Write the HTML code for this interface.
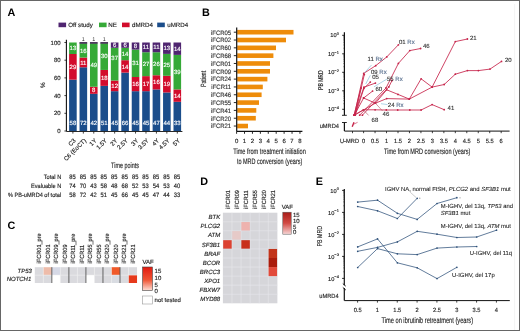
<!DOCTYPE html>
<html><head><meta charset="utf-8"><style>
html,body{margin:0;padding:0;background:#fff;}
body{width:520px;height:331px;overflow:hidden;}
svg{display:block;font-family:"Liberation Sans", sans-serif;will-change:transform;filter:blur(0.3px);}
</style></head><body>
<svg width="520" height="331" viewBox="0 0 520 331" font-family='"Liberation Sans", sans-serif' text-rendering="geometricPrecision">
<rect x="0" y="0" width="520" height="331" fill="#fff"/>
<line x1="514.6" y1="4" x2="514.6" y2="330" stroke="#f0f0f0" stroke-width="0.8"/>
<text x="7.60" y="15.60" font-size="10.8" text-anchor="start" fill="#000" font-weight="bold" >A</text>
<text x="202.00" y="15.60" font-size="10.8" text-anchor="start" fill="#000" font-weight="bold" >B</text>
<text x="7.60" y="229.20" font-size="10.8" text-anchor="start" fill="#000" font-weight="bold" >C</text>
<text x="200.20" y="185.20" font-size="10.8" text-anchor="start" fill="#000" font-weight="bold" >D</text>
<text x="315.80" y="185.20" font-size="10.8" text-anchor="start" fill="#000" font-weight="bold" >E</text>
<rect x="58.50" y="22.60" width="7.60" height="4.60" fill="#4f2570" />
<text x="68.20" y="27.30" font-size="6.2" text-anchor="start" fill="#222" stroke="#222" stroke-width="0.14" >Off study</text>
<rect x="99.00" y="22.60" width="7.60" height="4.60" fill="#35a937" />
<text x="108.20" y="27.30" font-size="6.2" text-anchor="start" fill="#222" stroke="#222" stroke-width="0.14" >NE</text>
<rect x="122.00" y="22.60" width="7.60" height="4.60" fill="#d20c2c" />
<text x="132.00" y="27.30" font-size="6.2" text-anchor="start" fill="#222" stroke="#222" stroke-width="0.14" >dMRD4</text>
<rect x="157.20" y="22.60" width="7.60" height="4.60" fill="#1b4d8b" />
<text x="167.20" y="27.30" font-size="6.2" text-anchor="start" fill="#222" stroke="#222" stroke-width="0.14" >uMRD4</text>
<line x1="66.40" y1="39.80" x2="66.40" y2="131.50" stroke="#111" stroke-width="1.1"/>
<line x1="64.40" y1="131.00" x2="66.60" y2="131.00" stroke="#111" stroke-width="0.8"/>
<text x="60.60" y="133.10" font-size="6" text-anchor="end" fill="#222" stroke="#222" stroke-width="0.14" >0</text>
<line x1="64.40" y1="113.30" x2="66.60" y2="113.30" stroke="#111" stroke-width="0.8"/>
<text x="60.60" y="115.40" font-size="6" text-anchor="end" fill="#222" stroke="#222" stroke-width="0.14" >20</text>
<line x1="64.40" y1="95.60" x2="66.60" y2="95.60" stroke="#111" stroke-width="0.8"/>
<text x="60.60" y="97.70" font-size="6" text-anchor="end" fill="#222" stroke="#222" stroke-width="0.14" >40</text>
<line x1="64.40" y1="77.90" x2="66.60" y2="77.90" stroke="#111" stroke-width="0.8"/>
<text x="60.60" y="80.00" font-size="6" text-anchor="end" fill="#222" stroke="#222" stroke-width="0.14" >60</text>
<line x1="64.40" y1="60.20" x2="66.60" y2="60.20" stroke="#111" stroke-width="0.8"/>
<text x="60.60" y="62.30" font-size="6" text-anchor="end" fill="#222" stroke="#222" stroke-width="0.14" >80</text>
<line x1="64.40" y1="42.50" x2="66.60" y2="42.50" stroke="#111" stroke-width="0.8"/>
<text x="60.60" y="44.60" font-size="6" text-anchor="end" fill="#222" stroke="#222" stroke-width="0.14" >100</text>
<text x="0.00" y="0.00" font-size="6.4" text-anchor="middle" fill="#222" stroke="#222" stroke-width="0.14" transform="translate(44.6,85.2) rotate(-90)">%</text>
<rect x="69.10" y="79.67" width="7.60" height="51.33" fill="#1b4d8b" />
<rect x="69.10" y="54.01" width="7.60" height="25.66" fill="#d20c2c" />
<rect x="69.10" y="42.50" width="7.60" height="11.51" fill="#35a937" />
<rect x="69.10" y="42.50" width="7.60" height="0.00" fill="#4f2570" />
<text x="72.90" y="124.60" font-size="6" text-anchor="middle" fill="#fff" stroke="#fff" stroke-width="0.14" >58</text>
<text x="72.90" y="68.94" font-size="6" text-anchor="middle" fill="#fff" stroke="#fff" stroke-width="0.14" >29</text>
<text x="72.90" y="50.35" font-size="6" text-anchor="middle" fill="#fff" stroke="#fff" stroke-width="0.14" >13</text>
<line x1="72.90" y1="131.50" x2="72.90" y2="133.60" stroke="#111" stroke-width="0.8"/>
<text x="0.00" y="0.00" font-size="6" text-anchor="end" fill="#222" stroke="#222" stroke-width="0.14" transform="translate(76.10,141.0) rotate(-45)">C3</text>
<rect x="79.54" y="67.28" width="7.60" height="63.72" fill="#1b4d8b" />
<rect x="79.54" y="57.55" width="7.60" height="9.73" fill="#d20c2c" />
<rect x="79.54" y="43.39" width="7.60" height="14.16" fill="#35a937" />
<rect x="79.54" y="42.50" width="7.60" height="0.89" fill="#4f2570" />
<text x="83.34" y="124.60" font-size="6" text-anchor="middle" fill="#fff" stroke="#fff" stroke-width="0.14" >72</text>
<text x="83.34" y="64.51" font-size="6" text-anchor="middle" fill="#fff" stroke="#fff" stroke-width="0.14" >11</text>
<text x="83.34" y="52.57" font-size="6" text-anchor="middle" fill="#fff" stroke="#fff" stroke-width="0.14" >16</text>
<rect x="79.54" y="42.30" width="7.60" height="1.20" fill="#2a1838" />
<text x="83.34" y="40.7" font-size="5.4" text-anchor="middle" fill="#333">1</text>
<line x1="83.34" y1="131.50" x2="83.34" y2="133.60" stroke="#111" stroke-width="0.8"/>
<text x="0.00" y="0.00" font-size="6" text-anchor="end" fill="#222" stroke="#222" stroke-width="0.14" transform="translate(86.54,141.0) rotate(-45)">C6 (EoCT)</text>
<rect x="89.98" y="93.83" width="7.60" height="37.17" fill="#1b4d8b" />
<rect x="89.98" y="86.75" width="7.60" height="7.08" fill="#d20c2c" />
<rect x="89.98" y="43.38" width="7.60" height="43.37" fill="#35a937" />
<rect x="89.98" y="42.50" width="7.60" height="0.89" fill="#4f2570" />
<text x="93.78" y="124.60" font-size="6" text-anchor="middle" fill="#fff" stroke="#fff" stroke-width="0.14" >42</text>
<text x="93.78" y="92.39" font-size="6" text-anchor="middle" fill="#fff" stroke="#fff" stroke-width="0.14" >8</text>
<text x="93.78" y="67.17" font-size="6" text-anchor="middle" fill="#fff" stroke="#fff" stroke-width="0.14" >49</text>
<rect x="89.98" y="42.30" width="7.60" height="1.20" fill="#2a1838" />
<text x="93.78" y="40.7" font-size="5.4" text-anchor="middle" fill="#333">1</text>
<line x1="93.78" y1="131.50" x2="93.78" y2="133.60" stroke="#111" stroke-width="0.8"/>
<text x="0.00" y="0.00" font-size="6" text-anchor="end" fill="#222" stroke="#222" stroke-width="0.14" transform="translate(96.98,141.0) rotate(-45)">1Y</text>
<rect x="100.42" y="85.87" width="7.60" height="45.13" fill="#1b4d8b" />
<rect x="100.42" y="69.94" width="7.60" height="15.93" fill="#d20c2c" />
<rect x="100.42" y="43.39" width="7.60" height="26.55" fill="#35a937" />
<rect x="100.42" y="42.50" width="7.60" height="0.89" fill="#4f2570" />
<text x="104.22" y="124.60" font-size="6" text-anchor="middle" fill="#fff" stroke="#fff" stroke-width="0.14" >51</text>
<text x="104.22" y="80.00" font-size="6" text-anchor="middle" fill="#fff" stroke="#fff" stroke-width="0.14" >18</text>
<text x="104.22" y="58.00" font-size="6" text-anchor="middle" fill="#fff" stroke="#fff" stroke-width="0.14" >30</text>
<rect x="100.42" y="42.30" width="7.60" height="1.20" fill="#2a1838" />
<text x="104.22" y="40.7" font-size="5.4" text-anchor="middle" fill="#333">1</text>
<line x1="104.22" y1="131.50" x2="104.22" y2="133.60" stroke="#111" stroke-width="0.8"/>
<text x="0.00" y="0.00" font-size="6" text-anchor="end" fill="#222" stroke="#222" stroke-width="0.14" transform="translate(107.42,141.0) rotate(-45)">1.5Y</text>
<rect x="110.86" y="91.17" width="7.60" height="39.83" fill="#1b4d8b" />
<rect x="110.86" y="80.55" width="7.60" height="10.62" fill="#d20c2c" />
<rect x="110.86" y="47.81" width="7.60" height="32.74" fill="#35a937" />
<rect x="110.86" y="42.50" width="7.60" height="5.31" fill="#4f2570" />
<text x="114.66" y="124.60" font-size="6" text-anchor="middle" fill="#fff" stroke="#fff" stroke-width="0.14" >45</text>
<text x="114.66" y="87.96" font-size="6" text-anchor="middle" fill="#fff" stroke="#fff" stroke-width="0.14" >12</text>
<text x="114.66" y="60.10" font-size="6" text-anchor="middle" fill="#fff" stroke="#fff" stroke-width="0.14" >37</text>
<text x="114.66" y="47.25" font-size="6" text-anchor="middle" fill="#fff" stroke="#fff" stroke-width="0.14" >6</text>
<line x1="114.66" y1="131.50" x2="114.66" y2="133.60" stroke="#111" stroke-width="0.8"/>
<text x="0.00" y="0.00" font-size="6" text-anchor="end" fill="#222" stroke="#222" stroke-width="0.14" transform="translate(117.86,141.0) rotate(-45)">2Y</text>
<rect x="121.30" y="72.59" width="7.60" height="58.41" fill="#1b4d8b" />
<rect x="121.30" y="60.20" width="7.60" height="12.39" fill="#d20c2c" />
<rect x="121.30" y="47.81" width="7.60" height="12.39" fill="#35a937" />
<rect x="121.30" y="42.50" width="7.60" height="5.31" fill="#4f2570" />
<text x="125.10" y="124.60" font-size="6" text-anchor="middle" fill="#fff" stroke="#fff" stroke-width="0.14" >66</text>
<text x="125.10" y="68.50" font-size="6" text-anchor="middle" fill="#fff" stroke="#fff" stroke-width="0.14" >14</text>
<text x="125.10" y="56.11" font-size="6" text-anchor="middle" fill="#fff" stroke="#fff" stroke-width="0.14" >14</text>
<text x="125.10" y="47.26" font-size="6" text-anchor="middle" fill="#fff" stroke="#fff" stroke-width="0.14" >6</text>
<line x1="125.10" y1="131.50" x2="125.10" y2="133.60" stroke="#111" stroke-width="0.8"/>
<text x="0.00" y="0.00" font-size="6" text-anchor="end" fill="#222" stroke="#222" stroke-width="0.14" transform="translate(128.30,141.0) rotate(-45)">2.5Y</text>
<rect x="131.74" y="91.17" width="7.60" height="39.83" fill="#1b4d8b" />
<rect x="131.74" y="77.02" width="7.60" height="14.16" fill="#d20c2c" />
<rect x="131.74" y="49.58" width="7.60" height="27.43" fill="#35a937" />
<rect x="131.74" y="42.50" width="7.60" height="7.08" fill="#4f2570" />
<text x="135.54" y="124.60" font-size="6" text-anchor="middle" fill="#fff" stroke="#fff" stroke-width="0.14" >45</text>
<text x="135.54" y="86.19" font-size="6" text-anchor="middle" fill="#fff" stroke="#fff" stroke-width="0.14" >16</text>
<text x="135.54" y="65.40" font-size="6" text-anchor="middle" fill="#fff" stroke="#fff" stroke-width="0.14" >31</text>
<text x="135.54" y="48.14" font-size="6" text-anchor="middle" fill="#fff" stroke="#fff" stroke-width="0.14" >8</text>
<line x1="135.54" y1="131.50" x2="135.54" y2="133.60" stroke="#111" stroke-width="0.8"/>
<text x="0.00" y="0.00" font-size="6" text-anchor="end" fill="#222" stroke="#222" stroke-width="0.14" transform="translate(138.74,141.0) rotate(-45)">3Y</text>
<rect x="142.18" y="91.17" width="7.60" height="39.83" fill="#1b4d8b" />
<rect x="142.18" y="76.13" width="7.60" height="15.04" fill="#d20c2c" />
<rect x="142.18" y="52.23" width="7.60" height="23.89" fill="#35a937" />
<rect x="142.18" y="42.50" width="7.60" height="9.73" fill="#4f2570" />
<text x="145.98" y="124.60" font-size="6" text-anchor="middle" fill="#fff" stroke="#fff" stroke-width="0.14" >45</text>
<text x="145.98" y="85.75" font-size="6" text-anchor="middle" fill="#fff" stroke="#fff" stroke-width="0.14" >17</text>
<text x="145.98" y="66.28" font-size="6" text-anchor="middle" fill="#fff" stroke="#fff" stroke-width="0.14" >27</text>
<text x="145.98" y="49.47" font-size="6" text-anchor="middle" fill="#fff" stroke="#fff" stroke-width="0.14" >11</text>
<line x1="145.98" y1="131.50" x2="145.98" y2="133.60" stroke="#111" stroke-width="0.8"/>
<text x="0.00" y="0.00" font-size="6" text-anchor="end" fill="#222" stroke="#222" stroke-width="0.14" transform="translate(149.18,141.0) rotate(-45)">3.5Y</text>
<rect x="152.62" y="89.41" width="7.60" height="41.59" fill="#1b4d8b" />
<rect x="152.62" y="75.25" width="7.60" height="14.16" fill="#d20c2c" />
<rect x="152.62" y="52.23" width="7.60" height="23.01" fill="#35a937" />
<rect x="152.62" y="42.50" width="7.60" height="9.73" fill="#4f2570" />
<text x="156.42" y="124.60" font-size="6" text-anchor="middle" fill="#fff" stroke="#fff" stroke-width="0.14" >47</text>
<text x="156.42" y="84.42" font-size="6" text-anchor="middle" fill="#fff" stroke="#fff" stroke-width="0.14" >16</text>
<text x="156.42" y="65.84" font-size="6" text-anchor="middle" fill="#fff" stroke="#fff" stroke-width="0.14" >26</text>
<text x="156.42" y="49.47" font-size="6" text-anchor="middle" fill="#fff" stroke="#fff" stroke-width="0.14" >11</text>
<line x1="156.42" y1="131.50" x2="156.42" y2="133.60" stroke="#111" stroke-width="0.8"/>
<text x="0.00" y="0.00" font-size="6" text-anchor="end" fill="#222" stroke="#222" stroke-width="0.14" transform="translate(159.62,141.0) rotate(-45)">4Y</text>
<rect x="163.06" y="92.45" width="7.60" height="38.55" fill="#1b4d8b" />
<rect x="163.06" y="75.80" width="7.60" height="16.65" fill="#d20c2c" />
<rect x="163.06" y="53.89" width="7.60" height="21.91" fill="#35a937" />
<rect x="163.06" y="42.50" width="7.60" height="11.39" fill="#4f2570" />
<text x="166.86" y="124.60" font-size="6" text-anchor="middle" fill="#fff" stroke="#fff" stroke-width="0.14" >44</text>
<text x="166.86" y="86.22" font-size="6" text-anchor="middle" fill="#fff" stroke="#fff" stroke-width="0.14" >19</text>
<text x="166.86" y="66.94" font-size="6" text-anchor="middle" fill="#fff" stroke="#fff" stroke-width="0.14" >25</text>
<text x="166.86" y="50.30" font-size="6" text-anchor="middle" fill="#fff" stroke="#fff" stroke-width="0.14" >13</text>
<line x1="166.86" y1="131.50" x2="166.86" y2="133.60" stroke="#111" stroke-width="0.8"/>
<text x="0.00" y="0.00" font-size="6" text-anchor="end" fill="#222" stroke="#222" stroke-width="0.14" transform="translate(170.06,141.0) rotate(-45)">4.5Y</text>
<rect x="173.50" y="101.80" width="7.60" height="29.21" fill="#1b4d8b" />
<rect x="173.50" y="89.41" width="7.60" height="12.39" fill="#d20c2c" />
<rect x="173.50" y="54.89" width="7.60" height="34.52" fill="#35a937" />
<rect x="173.50" y="42.50" width="7.60" height="12.39" fill="#4f2570" />
<text x="177.30" y="124.60" font-size="6" text-anchor="middle" fill="#fff" stroke="#fff" stroke-width="0.14" >33</text>
<text x="177.30" y="97.70" font-size="6" text-anchor="middle" fill="#fff" stroke="#fff" stroke-width="0.14" >14</text>
<text x="177.30" y="74.25" font-size="6" text-anchor="middle" fill="#fff" stroke="#fff" stroke-width="0.14" >39</text>
<text x="177.30" y="50.80" font-size="6" text-anchor="middle" fill="#fff" stroke="#fff" stroke-width="0.14" >14</text>
<line x1="177.30" y1="131.50" x2="177.30" y2="133.60" stroke="#111" stroke-width="0.8"/>
<text x="0.00" y="0.00" font-size="6" text-anchor="end" fill="#222" stroke="#222" stroke-width="0.14" transform="translate(180.50,141.0) rotate(-45)">5Y</text>
<line x1="66.60" y1="131.50" x2="182.40" y2="131.50" stroke="#111" stroke-width="0.9"/>
<text x="125.00" y="167.80" font-size="7.8" text-anchor="middle" fill="#222" stroke="#222" stroke-width="0.14" textLength="27.8" lengthAdjust="spacingAndGlyphs" >Time points</text>
<text x="0.00" y="0.00" font-size="6.1" text-anchor="end" fill="#222" stroke="#222" stroke-width="0.14"  transform="translate(61.20,178.80) scale(0.92,1)">Total N</text>
<text x="0.00" y="0.00" font-size="6.3" text-anchor="middle" fill="#222" stroke="#222" stroke-width="0.14"  transform="translate(72.50,178.80) scale(0.92,1)">85</text>
<text x="0.00" y="0.00" font-size="6.3" text-anchor="middle" fill="#222" stroke="#222" stroke-width="0.14"  transform="translate(82.94,178.80) scale(0.92,1)">85</text>
<text x="0.00" y="0.00" font-size="6.3" text-anchor="middle" fill="#222" stroke="#222" stroke-width="0.14"  transform="translate(93.38,178.80) scale(0.92,1)">85</text>
<text x="0.00" y="0.00" font-size="6.3" text-anchor="middle" fill="#222" stroke="#222" stroke-width="0.14"  transform="translate(103.82,178.80) scale(0.92,1)">85</text>
<text x="0.00" y="0.00" font-size="6.3" text-anchor="middle" fill="#222" stroke="#222" stroke-width="0.14"  transform="translate(114.26,178.80) scale(0.92,1)">85</text>
<text x="0.00" y="0.00" font-size="6.3" text-anchor="middle" fill="#222" stroke="#222" stroke-width="0.14"  transform="translate(124.70,178.80) scale(0.92,1)">85</text>
<text x="0.00" y="0.00" font-size="6.3" text-anchor="middle" fill="#222" stroke="#222" stroke-width="0.14"  transform="translate(135.14,178.80) scale(0.92,1)">85</text>
<text x="0.00" y="0.00" font-size="6.3" text-anchor="middle" fill="#222" stroke="#222" stroke-width="0.14"  transform="translate(145.58,178.80) scale(0.92,1)">85</text>
<text x="0.00" y="0.00" font-size="6.3" text-anchor="middle" fill="#222" stroke="#222" stroke-width="0.14"  transform="translate(156.02,178.80) scale(0.92,1)">85</text>
<text x="0.00" y="0.00" font-size="6.3" text-anchor="middle" fill="#222" stroke="#222" stroke-width="0.14"  transform="translate(166.46,178.80) scale(0.92,1)">85</text>
<text x="0.00" y="0.00" font-size="6.3" text-anchor="middle" fill="#222" stroke="#222" stroke-width="0.14"  transform="translate(176.90,178.80) scale(0.92,1)">85</text>
<text x="0.00" y="0.00" font-size="6.1" text-anchor="end" fill="#222" stroke="#222" stroke-width="0.14"  transform="translate(61.20,187.70) scale(0.92,1)">Evaluable N</text>
<text x="0.00" y="0.00" font-size="6.3" text-anchor="middle" fill="#222" stroke="#222" stroke-width="0.14"  transform="translate(72.50,187.70) scale(0.92,1)">74</text>
<text x="0.00" y="0.00" font-size="6.3" text-anchor="middle" fill="#222" stroke="#222" stroke-width="0.14"  transform="translate(82.94,187.70) scale(0.92,1)">70</text>
<text x="0.00" y="0.00" font-size="6.3" text-anchor="middle" fill="#222" stroke="#222" stroke-width="0.14"  transform="translate(93.38,187.70) scale(0.92,1)">43</text>
<text x="0.00" y="0.00" font-size="6.3" text-anchor="middle" fill="#222" stroke="#222" stroke-width="0.14"  transform="translate(103.82,187.70) scale(0.92,1)">58</text>
<text x="0.00" y="0.00" font-size="6.3" text-anchor="middle" fill="#222" stroke="#222" stroke-width="0.14"  transform="translate(114.26,187.70) scale(0.92,1)">48</text>
<text x="0.00" y="0.00" font-size="6.3" text-anchor="middle" fill="#222" stroke="#222" stroke-width="0.14"  transform="translate(124.70,187.70) scale(0.92,1)">68</text>
<text x="0.00" y="0.00" font-size="6.3" text-anchor="middle" fill="#222" stroke="#222" stroke-width="0.14"  transform="translate(135.14,187.70) scale(0.92,1)">52</text>
<text x="0.00" y="0.00" font-size="6.3" text-anchor="middle" fill="#222" stroke="#222" stroke-width="0.14"  transform="translate(145.58,187.70) scale(0.92,1)">53</text>
<text x="0.00" y="0.00" font-size="6.3" text-anchor="middle" fill="#222" stroke="#222" stroke-width="0.14"  transform="translate(156.02,187.70) scale(0.92,1)">54</text>
<text x="0.00" y="0.00" font-size="6.3" text-anchor="middle" fill="#222" stroke="#222" stroke-width="0.14"  transform="translate(166.46,187.70) scale(0.92,1)">53</text>
<text x="0.00" y="0.00" font-size="6.3" text-anchor="middle" fill="#222" stroke="#222" stroke-width="0.14"  transform="translate(176.90,187.70) scale(0.92,1)">40</text>
<text x="0.00" y="0.00" font-size="6.1" text-anchor="end" fill="#222" stroke="#222" stroke-width="0.14"  transform="translate(61.20,196.60) scale(0.92,1)">% PB-uMRD4 of total</text>
<text x="0.00" y="0.00" font-size="6.3" text-anchor="middle" fill="#222" stroke="#222" stroke-width="0.14"  transform="translate(72.50,196.60) scale(0.92,1)">58</text>
<text x="0.00" y="0.00" font-size="6.3" text-anchor="middle" fill="#222" stroke="#222" stroke-width="0.14"  transform="translate(82.94,196.60) scale(0.92,1)">72</text>
<text x="0.00" y="0.00" font-size="6.3" text-anchor="middle" fill="#222" stroke="#222" stroke-width="0.14"  transform="translate(93.38,196.60) scale(0.92,1)">42</text>
<text x="0.00" y="0.00" font-size="6.3" text-anchor="middle" fill="#222" stroke="#222" stroke-width="0.14"  transform="translate(103.82,196.60) scale(0.92,1)">51</text>
<text x="0.00" y="0.00" font-size="6.3" text-anchor="middle" fill="#222" stroke="#222" stroke-width="0.14"  transform="translate(114.26,196.60) scale(0.92,1)">45</text>
<text x="0.00" y="0.00" font-size="6.3" text-anchor="middle" fill="#222" stroke="#222" stroke-width="0.14"  transform="translate(124.70,196.60) scale(0.92,1)">66</text>
<text x="0.00" y="0.00" font-size="6.3" text-anchor="middle" fill="#222" stroke="#222" stroke-width="0.14"  transform="translate(135.14,196.60) scale(0.92,1)">45</text>
<text x="0.00" y="0.00" font-size="6.3" text-anchor="middle" fill="#222" stroke="#222" stroke-width="0.14"  transform="translate(145.58,196.60) scale(0.92,1)">45</text>
<text x="0.00" y="0.00" font-size="6.3" text-anchor="middle" fill="#222" stroke="#222" stroke-width="0.14"  transform="translate(156.02,196.60) scale(0.92,1)">47</text>
<text x="0.00" y="0.00" font-size="6.3" text-anchor="middle" fill="#222" stroke="#222" stroke-width="0.14"  transform="translate(166.46,196.60) scale(0.92,1)">44</text>
<text x="0.00" y="0.00" font-size="6.3" text-anchor="middle" fill="#222" stroke="#222" stroke-width="0.14"  transform="translate(176.90,196.60) scale(0.92,1)">33</text>
<rect x="237.20" y="29.90" width="56.30" height="4.60" fill="#ee8c0a" />
<line x1="233.80" y1="32.20" x2="236.70" y2="32.20" stroke="#111" stroke-width="0.9"/>
<text x="0.00" y="0.00" font-size="6.3" text-anchor="end" fill="#333" stroke="#333" stroke-width="0.14"  transform="translate(231.20,34.50) scale(0.95,1)">iFCR05</text>
<rect x="237.20" y="37.72" width="48.80" height="4.60" fill="#ee8c0a" />
<line x1="233.80" y1="40.02" x2="236.70" y2="40.02" stroke="#111" stroke-width="0.9"/>
<text x="0.00" y="0.00" font-size="6.3" text-anchor="end" fill="#333" stroke="#333" stroke-width="0.14"  transform="translate(231.20,42.32) scale(0.95,1)">iFCR02</text>
<rect x="237.20" y="45.54" width="38.80" height="4.60" fill="#ee8c0a" />
<line x1="233.80" y1="47.84" x2="236.70" y2="47.84" stroke="#111" stroke-width="0.9"/>
<text x="0.00" y="0.00" font-size="6.3" text-anchor="end" fill="#333" stroke="#333" stroke-width="0.14"  transform="translate(231.20,50.14) scale(0.95,1)">iFCR60</text>
<rect x="237.20" y="53.36" width="36.20" height="4.60" fill="#ee8c0a" />
<line x1="233.80" y1="55.66" x2="236.70" y2="55.66" stroke="#111" stroke-width="0.9"/>
<text x="0.00" y="0.00" font-size="6.3" text-anchor="end" fill="#333" stroke="#333" stroke-width="0.14"  transform="translate(231.20,57.96) scale(0.95,1)">iFCR68</text>
<rect x="237.20" y="61.18" width="32.80" height="4.60" fill="#ee8c0a" />
<line x1="233.80" y1="63.48" x2="236.70" y2="63.48" stroke="#111" stroke-width="0.9"/>
<text x="0.00" y="0.00" font-size="6.3" text-anchor="end" fill="#333" stroke="#333" stroke-width="0.14"  transform="translate(231.20,65.78) scale(0.95,1)">iFCR01</text>
<rect x="237.20" y="69.00" width="32.80" height="4.60" fill="#ee8c0a" />
<line x1="233.80" y1="71.30" x2="236.70" y2="71.30" stroke="#111" stroke-width="0.9"/>
<text x="0.00" y="0.00" font-size="6.3" text-anchor="end" fill="#333" stroke="#333" stroke-width="0.14"  transform="translate(231.20,73.60) scale(0.95,1)">iFCR09</text>
<rect x="237.20" y="76.82" width="30.20" height="4.60" fill="#ee8c0a" />
<line x1="233.80" y1="79.12" x2="236.70" y2="79.12" stroke="#111" stroke-width="0.9"/>
<text x="0.00" y="0.00" font-size="6.3" text-anchor="end" fill="#333" stroke="#333" stroke-width="0.14"  transform="translate(231.20,81.42) scale(0.95,1)">iFCR24</text>
<rect x="237.20" y="84.64" width="25.60" height="4.60" fill="#ee8c0a" />
<line x1="233.80" y1="86.94" x2="236.70" y2="86.94" stroke="#111" stroke-width="0.9"/>
<text x="0.00" y="0.00" font-size="6.3" text-anchor="end" fill="#333" stroke="#333" stroke-width="0.14"  transform="translate(231.20,89.24) scale(0.95,1)">iFCR11</text>
<rect x="237.20" y="92.46" width="24.40" height="4.60" fill="#ee8c0a" />
<line x1="233.80" y1="94.76" x2="236.70" y2="94.76" stroke="#111" stroke-width="0.9"/>
<text x="0.00" y="0.00" font-size="6.3" text-anchor="end" fill="#333" stroke="#333" stroke-width="0.14"  transform="translate(231.20,97.06) scale(0.95,1)">iFCR46</text>
<rect x="237.20" y="100.28" width="21.80" height="4.60" fill="#ee8c0a" />
<line x1="233.80" y1="102.58" x2="236.70" y2="102.58" stroke="#111" stroke-width="0.9"/>
<text x="0.00" y="0.00" font-size="6.3" text-anchor="end" fill="#333" stroke="#333" stroke-width="0.14"  transform="translate(231.20,104.88) scale(0.95,1)">iFCR55</text>
<rect x="237.20" y="108.10" width="19.10" height="4.60" fill="#ee8c0a" />
<line x1="233.80" y1="110.40" x2="236.70" y2="110.40" stroke="#111" stroke-width="0.9"/>
<text x="0.00" y="0.00" font-size="6.3" text-anchor="end" fill="#333" stroke="#333" stroke-width="0.14"  transform="translate(231.20,112.70) scale(0.95,1)">iFCR41</text>
<rect x="237.20" y="115.92" width="18.60" height="4.60" fill="#ee8c0a" />
<line x1="233.80" y1="118.22" x2="236.70" y2="118.22" stroke="#111" stroke-width="0.9"/>
<text x="0.00" y="0.00" font-size="6.3" text-anchor="end" fill="#333" stroke="#333" stroke-width="0.14"  transform="translate(231.20,120.52) scale(0.95,1)">iFCR20</text>
<rect x="237.20" y="123.74" width="10.80" height="4.60" fill="#ee8c0a" />
<line x1="233.80" y1="126.04" x2="236.70" y2="126.04" stroke="#111" stroke-width="0.9"/>
<text x="0.00" y="0.00" font-size="6.3" text-anchor="end" fill="#333" stroke="#333" stroke-width="0.14"  transform="translate(231.20,128.34) scale(0.95,1)">iFCR21</text>
<line x1="236.70" y1="27.40" x2="236.70" y2="131.40" stroke="#111" stroke-width="1.2"/>
<line x1="236.70" y1="131.40" x2="302.40" y2="131.40" stroke="#111" stroke-width="1.1"/>
<line x1="236.60" y1="131.40" x2="236.60" y2="133.80" stroke="#111" stroke-width="0.9"/>
<text x="236.60" y="142.80" font-size="6" text-anchor="middle" fill="#222" stroke="#222" stroke-width="0.14" >0</text>
<line x1="244.52" y1="131.40" x2="244.52" y2="133.80" stroke="#111" stroke-width="0.9"/>
<text x="244.52" y="142.80" font-size="6" text-anchor="middle" fill="#222" stroke="#222" stroke-width="0.14" >1</text>
<line x1="252.44" y1="131.40" x2="252.44" y2="133.80" stroke="#111" stroke-width="0.9"/>
<text x="252.44" y="142.80" font-size="6" text-anchor="middle" fill="#222" stroke="#222" stroke-width="0.14" >2</text>
<line x1="260.36" y1="131.40" x2="260.36" y2="133.80" stroke="#111" stroke-width="0.9"/>
<text x="260.36" y="142.80" font-size="6" text-anchor="middle" fill="#222" stroke="#222" stroke-width="0.14" >3</text>
<line x1="268.28" y1="131.40" x2="268.28" y2="133.80" stroke="#111" stroke-width="0.9"/>
<text x="268.28" y="142.80" font-size="6" text-anchor="middle" fill="#222" stroke="#222" stroke-width="0.14" >4</text>
<line x1="276.20" y1="131.40" x2="276.20" y2="133.80" stroke="#111" stroke-width="0.9"/>
<text x="276.20" y="142.80" font-size="6" text-anchor="middle" fill="#222" stroke="#222" stroke-width="0.14" >5</text>
<line x1="284.12" y1="131.40" x2="284.12" y2="133.80" stroke="#111" stroke-width="0.9"/>
<text x="284.12" y="142.80" font-size="6" text-anchor="middle" fill="#222" stroke="#222" stroke-width="0.14" >6</text>
<line x1="292.04" y1="131.40" x2="292.04" y2="133.80" stroke="#111" stroke-width="0.9"/>
<text x="292.04" y="142.80" font-size="6" text-anchor="middle" fill="#222" stroke="#222" stroke-width="0.14" >7</text>
<line x1="299.96" y1="131.40" x2="299.96" y2="133.80" stroke="#111" stroke-width="0.9"/>
<text x="299.96" y="142.80" font-size="6" text-anchor="middle" fill="#222" stroke="#222" stroke-width="0.14" >8</text>
<text x="269.50" y="154.20" font-size="8.0" text-anchor="middle" fill="#222" stroke="#222" stroke-width="0.14" textLength="72.6" lengthAdjust="spacingAndGlyphs" >Time from treatment initiation</text>
<text x="269.60" y="163.70" font-size="8.0" text-anchor="middle" fill="#222" stroke="#222" stroke-width="0.14" textLength="65.4" lengthAdjust="spacingAndGlyphs" >to MRD conversion (years)</text>
<text x="0.00" y="0.00" font-size="7.6" text-anchor="middle" fill="#222" stroke="#222" stroke-width="0.14" textLength="16.2" lengthAdjust="spacingAndGlyphs" transform="translate(206.4,78.9) rotate(-90)">Patient</text>
<line x1="344.40" y1="32.30" x2="344.40" y2="115.30" stroke="#111" stroke-width="1.2"/>
<line x1="342.00" y1="115.30" x2="346.80" y2="115.30" stroke="#111" stroke-width="0.9"/>
<line x1="344.40" y1="122.50" x2="344.40" y2="131.10" stroke="#111" stroke-width="1.2"/>
<line x1="342.00" y1="122.50" x2="346.80" y2="122.50" stroke="#111" stroke-width="0.9"/>
<line x1="342.20" y1="35.30" x2="344.40" y2="35.30" stroke="#111" stroke-width="0.9"/>
<text x="338.80" y="37.40" font-size="5.7" text-anchor="end" fill="#222" stroke="#222" stroke-width="0.15">10<tspan font-size="3.9" dy="-2.4">0</tspan></text>
<line x1="343.30" y1="48.23" x2="344.40" y2="48.23" stroke="#111" stroke-width="0.45"/>
<line x1="343.30" y1="44.97" x2="344.40" y2="44.97" stroke="#111" stroke-width="0.45"/>
<line x1="343.30" y1="42.66" x2="344.40" y2="42.66" stroke="#111" stroke-width="0.45"/>
<line x1="343.30" y1="40.87" x2="344.40" y2="40.87" stroke="#111" stroke-width="0.45"/>
<line x1="343.30" y1="39.40" x2="344.40" y2="39.40" stroke="#111" stroke-width="0.45"/>
<line x1="343.30" y1="38.17" x2="344.40" y2="38.17" stroke="#111" stroke-width="0.45"/>
<line x1="343.30" y1="37.09" x2="344.40" y2="37.09" stroke="#111" stroke-width="0.45"/>
<line x1="343.30" y1="36.15" x2="344.40" y2="36.15" stroke="#111" stroke-width="0.45"/>
<line x1="342.20" y1="53.80" x2="344.40" y2="53.80" stroke="#111" stroke-width="0.9"/>
<text x="338.80" y="55.90" font-size="5.7" text-anchor="end" fill="#222" stroke="#222" stroke-width="0.15">10<tspan font-size="3.9" dy="-2.4">−1</tspan></text>
<line x1="343.30" y1="66.73" x2="344.40" y2="66.73" stroke="#111" stroke-width="0.45"/>
<line x1="343.30" y1="63.47" x2="344.40" y2="63.47" stroke="#111" stroke-width="0.45"/>
<line x1="343.30" y1="61.16" x2="344.40" y2="61.16" stroke="#111" stroke-width="0.45"/>
<line x1="343.30" y1="59.37" x2="344.40" y2="59.37" stroke="#111" stroke-width="0.45"/>
<line x1="343.30" y1="57.90" x2="344.40" y2="57.90" stroke="#111" stroke-width="0.45"/>
<line x1="343.30" y1="56.67" x2="344.40" y2="56.67" stroke="#111" stroke-width="0.45"/>
<line x1="343.30" y1="55.59" x2="344.40" y2="55.59" stroke="#111" stroke-width="0.45"/>
<line x1="343.30" y1="54.65" x2="344.40" y2="54.65" stroke="#111" stroke-width="0.45"/>
<line x1="342.20" y1="72.30" x2="344.40" y2="72.30" stroke="#111" stroke-width="0.9"/>
<text x="338.80" y="74.40" font-size="5.7" text-anchor="end" fill="#222" stroke="#222" stroke-width="0.15">10<tspan font-size="3.9" dy="-2.4">−2</tspan></text>
<line x1="343.30" y1="85.23" x2="344.40" y2="85.23" stroke="#111" stroke-width="0.45"/>
<line x1="343.30" y1="81.97" x2="344.40" y2="81.97" stroke="#111" stroke-width="0.45"/>
<line x1="343.30" y1="79.66" x2="344.40" y2="79.66" stroke="#111" stroke-width="0.45"/>
<line x1="343.30" y1="77.87" x2="344.40" y2="77.87" stroke="#111" stroke-width="0.45"/>
<line x1="343.30" y1="76.40" x2="344.40" y2="76.40" stroke="#111" stroke-width="0.45"/>
<line x1="343.30" y1="75.17" x2="344.40" y2="75.17" stroke="#111" stroke-width="0.45"/>
<line x1="343.30" y1="74.09" x2="344.40" y2="74.09" stroke="#111" stroke-width="0.45"/>
<line x1="343.30" y1="73.15" x2="344.40" y2="73.15" stroke="#111" stroke-width="0.45"/>
<line x1="342.20" y1="90.80" x2="344.40" y2="90.80" stroke="#111" stroke-width="0.9"/>
<text x="338.80" y="92.90" font-size="5.7" text-anchor="end" fill="#222" stroke="#222" stroke-width="0.15">10<tspan font-size="3.9" dy="-2.4">−3</tspan></text>
<line x1="343.30" y1="103.73" x2="344.40" y2="103.73" stroke="#111" stroke-width="0.45"/>
<line x1="343.30" y1="100.47" x2="344.40" y2="100.47" stroke="#111" stroke-width="0.45"/>
<line x1="343.30" y1="98.16" x2="344.40" y2="98.16" stroke="#111" stroke-width="0.45"/>
<line x1="343.30" y1="96.37" x2="344.40" y2="96.37" stroke="#111" stroke-width="0.45"/>
<line x1="343.30" y1="94.90" x2="344.40" y2="94.90" stroke="#111" stroke-width="0.45"/>
<line x1="343.30" y1="93.67" x2="344.40" y2="93.67" stroke="#111" stroke-width="0.45"/>
<line x1="343.30" y1="92.59" x2="344.40" y2="92.59" stroke="#111" stroke-width="0.45"/>
<line x1="343.30" y1="91.65" x2="344.40" y2="91.65" stroke="#111" stroke-width="0.45"/>
<line x1="342.20" y1="109.30" x2="344.40" y2="109.30" stroke="#111" stroke-width="0.9"/>
<text x="338.80" y="111.40" font-size="5.7" text-anchor="end" fill="#222" stroke="#222" stroke-width="0.15">10<tspan font-size="3.9" dy="-2.4">−4</tspan></text>
<text x="0.00" y="0.00" font-size="6.0" text-anchor="end" fill="#222" stroke="#222" stroke-width="0.14"  transform="translate(339.00,128.20) scale(0.95,1)">uMRD4</text>
<line x1="344.40" y1="131.10" x2="509.60" y2="131.10" stroke="#111" stroke-width="1.0"/>
<line x1="352.50" y1="131.10" x2="352.50" y2="133.20" stroke="#111" stroke-width="0.8"/>
<text x="0.00" y="0.00" font-size="6.0" text-anchor="middle" fill="#222" stroke="#222" stroke-width="0.14"  transform="translate(349.50,142.60) scale(0.95,1)">U-MRD</text>
<line x1="363.60" y1="131.10" x2="363.60" y2="133.20" stroke="#111" stroke-width="0.8"/>
<text x="0.00" y="0.00" font-size="6.0" text-anchor="middle" fill="#222" stroke="#222" stroke-width="0.14"  transform="translate(363.60,142.60) scale(0.95,1)">0</text>
<line x1="375.06" y1="131.10" x2="375.06" y2="133.20" stroke="#111" stroke-width="0.8"/>
<text x="0.00" y="0.00" font-size="6.0" text-anchor="middle" fill="#222" stroke="#222" stroke-width="0.14"  transform="translate(375.06,142.60) scale(0.95,1)">0.5</text>
<line x1="386.53" y1="131.10" x2="386.53" y2="133.20" stroke="#111" stroke-width="0.8"/>
<text x="0.00" y="0.00" font-size="6.0" text-anchor="middle" fill="#222" stroke="#222" stroke-width="0.14"  transform="translate(386.53,142.60) scale(0.95,1)">1</text>
<line x1="398.00" y1="131.10" x2="398.00" y2="133.20" stroke="#111" stroke-width="0.8"/>
<text x="0.00" y="0.00" font-size="6.0" text-anchor="middle" fill="#222" stroke="#222" stroke-width="0.14"  transform="translate(398.00,142.60) scale(0.95,1)">1.5</text>
<line x1="409.46" y1="131.10" x2="409.46" y2="133.20" stroke="#111" stroke-width="0.8"/>
<text x="0.00" y="0.00" font-size="6.0" text-anchor="middle" fill="#222" stroke="#222" stroke-width="0.14"  transform="translate(409.46,142.60) scale(0.95,1)">2</text>
<line x1="420.93" y1="131.10" x2="420.93" y2="133.20" stroke="#111" stroke-width="0.8"/>
<text x="0.00" y="0.00" font-size="6.0" text-anchor="middle" fill="#222" stroke="#222" stroke-width="0.14"  transform="translate(420.93,142.60) scale(0.95,1)">2.5</text>
<line x1="432.39" y1="131.10" x2="432.39" y2="133.20" stroke="#111" stroke-width="0.8"/>
<text x="0.00" y="0.00" font-size="6.0" text-anchor="middle" fill="#222" stroke="#222" stroke-width="0.14"  transform="translate(432.39,142.60) scale(0.95,1)">3</text>
<line x1="443.86" y1="131.10" x2="443.86" y2="133.20" stroke="#111" stroke-width="0.8"/>
<text x="0.00" y="0.00" font-size="6.0" text-anchor="middle" fill="#222" stroke="#222" stroke-width="0.14"  transform="translate(443.86,142.60) scale(0.95,1)">3.5</text>
<line x1="455.32" y1="131.10" x2="455.32" y2="133.20" stroke="#111" stroke-width="0.8"/>
<text x="0.00" y="0.00" font-size="6.0" text-anchor="middle" fill="#222" stroke="#222" stroke-width="0.14"  transform="translate(455.32,142.60) scale(0.95,1)">4</text>
<line x1="466.79" y1="131.10" x2="466.79" y2="133.20" stroke="#111" stroke-width="0.8"/>
<text x="0.00" y="0.00" font-size="6.0" text-anchor="middle" fill="#222" stroke="#222" stroke-width="0.14"  transform="translate(466.79,142.60) scale(0.95,1)">4.5</text>
<line x1="478.25" y1="131.10" x2="478.25" y2="133.20" stroke="#111" stroke-width="0.8"/>
<text x="0.00" y="0.00" font-size="6.0" text-anchor="middle" fill="#222" stroke="#222" stroke-width="0.14"  transform="translate(478.25,142.60) scale(0.95,1)">5</text>
<line x1="489.72" y1="131.10" x2="489.72" y2="133.20" stroke="#111" stroke-width="0.8"/>
<text x="0.00" y="0.00" font-size="6.0" text-anchor="middle" fill="#222" stroke="#222" stroke-width="0.14"  transform="translate(489.72,142.60) scale(0.95,1)">5.5</text>
<line x1="501.18" y1="131.10" x2="501.18" y2="133.20" stroke="#111" stroke-width="0.8"/>
<text x="0.00" y="0.00" font-size="6.0" text-anchor="middle" fill="#222" stroke="#222" stroke-width="0.14"  transform="translate(501.18,142.60) scale(0.95,1)">6</text>
<text x="427.20" y="154.00" font-size="8.0" text-anchor="middle" fill="#222" stroke="#222" stroke-width="0.14" textLength="86.5" lengthAdjust="spacingAndGlyphs" >Time from MRD conversion (years)</text>
<text x="0.00" y="0.00" font-size="7.2" text-anchor="middle" fill="#222" stroke="#222" stroke-width="0.14" textLength="19.5" lengthAdjust="spacingAndGlyphs" transform="translate(322.6,80.2) rotate(-90)">PB MRD</text>
<polyline points="354.30,115.20 363.70,73.40 375.70,65.70 386.80,56.90 398.40,44.80" fill="none" stroke="#c6244a" stroke-width="0.85" stroke-linejoin="round"/>
<circle cx="354.30" cy="115.20" r="0.9" fill="#c6244a"/>
<circle cx="363.70" cy="73.40" r="0.9" fill="#c6244a"/>
<circle cx="375.70" cy="65.70" r="0.9" fill="#c6244a"/>
<circle cx="386.80" cy="56.90" r="0.9" fill="#c6244a"/>
<circle cx="398.40" cy="44.80" r="0.9" fill="#c6244a"/>
<polyline points="355.00,115.20 364.30,74.60" fill="none" stroke="#c6244a" stroke-width="0.85" stroke-linejoin="round"/>
<circle cx="355.00" cy="115.20" r="0.9" fill="#c6244a"/>
<circle cx="364.30" cy="74.60" r="0.9" fill="#c6244a"/>
<polyline points="354.00,115.20 361.00,88.00" fill="none" stroke="#c6244a" stroke-width="0.85" stroke-linejoin="round"/>
<circle cx="354.00" cy="115.20" r="0.9" fill="#c6244a"/>
<circle cx="361.00" cy="88.00" r="0.9" fill="#c6244a"/>
<polyline points="354.30,115.20 363.90,87.20 375.40,83.10" fill="none" stroke="#c6244a" stroke-width="0.85" stroke-linejoin="round"/>
<circle cx="354.30" cy="115.20" r="0.9" fill="#c6244a"/>
<circle cx="363.90" cy="87.20" r="0.9" fill="#c6244a"/>
<circle cx="375.40" cy="83.10" r="0.9" fill="#c6244a"/>
<polyline points="355.20,115.20 363.90,88.40 370.30,82.10" fill="none" stroke="#c6244a" stroke-width="0.85" stroke-linejoin="round"/>
<circle cx="355.20" cy="115.20" r="0.9" fill="#c6244a"/>
<circle cx="363.90" cy="88.40" r="0.9" fill="#c6244a"/>
<circle cx="370.30" cy="82.10" r="0.9" fill="#c6244a"/>
<polyline points="359.70,115.20 386.00,88.00 398.40,63.40 409.80,50.60 420.60,48.50" fill="none" stroke="#c6244a" stroke-width="0.85" stroke-linejoin="round"/>
<circle cx="359.70" cy="115.20" r="0.9" fill="#c6244a"/>
<circle cx="386.00" cy="88.00" r="0.9" fill="#c6244a"/>
<circle cx="398.40" cy="63.40" r="0.9" fill="#c6244a"/>
<circle cx="409.80" cy="50.60" r="0.9" fill="#c6244a"/>
<circle cx="420.60" cy="48.50" r="0.9" fill="#c6244a"/>
<polyline points="362.40,115.20 388.80,87.00 392.00,80.50" fill="none" stroke="#c6244a" stroke-width="0.85" stroke-linejoin="round"/>
<circle cx="362.40" cy="115.20" r="0.9" fill="#c6244a"/>
<circle cx="388.80" cy="87.00" r="0.9" fill="#c6244a"/>
<circle cx="392.00" cy="80.50" r="0.9" fill="#c6244a"/>
<polyline points="354.30,115.20 375.40,103.20 386.70,89.80 398.00,94.40 409.30,99.10 421.10,78.80 432.10,87.10 455.30,41.60 467.40,39.00" fill="none" stroke="#c6244a" stroke-width="0.85" stroke-linejoin="round"/>
<circle cx="354.30" cy="115.20" r="0.9" fill="#c6244a"/>
<circle cx="375.40" cy="103.20" r="0.9" fill="#c6244a"/>
<circle cx="386.70" cy="89.80" r="0.9" fill="#c6244a"/>
<circle cx="398.00" cy="94.40" r="0.9" fill="#c6244a"/>
<circle cx="409.30" cy="99.10" r="0.9" fill="#c6244a"/>
<circle cx="421.10" cy="78.80" r="0.9" fill="#c6244a"/>
<circle cx="432.10" cy="87.10" r="0.9" fill="#c6244a"/>
<circle cx="455.30" cy="41.60" r="0.9" fill="#c6244a"/>
<circle cx="467.40" cy="39.00" r="0.9" fill="#c6244a"/>
<polyline points="354.30,115.20 363.60,98.00 375.40,103.20 386.70,98.60 409.30,99.10 432.10,87.10 444.20,84.50 455.30,74.20 467.40,70.60 478.40,70.60 490.00,69.10 501.50,61.40" fill="none" stroke="#c6244a" stroke-width="0.85" stroke-linejoin="round"/>
<circle cx="354.30" cy="115.20" r="0.9" fill="#c6244a"/>
<circle cx="363.60" cy="98.00" r="0.9" fill="#c6244a"/>
<circle cx="375.40" cy="103.20" r="0.9" fill="#c6244a"/>
<circle cx="386.70" cy="98.60" r="0.9" fill="#c6244a"/>
<circle cx="409.30" cy="99.10" r="0.9" fill="#c6244a"/>
<circle cx="432.10" cy="87.10" r="0.9" fill="#c6244a"/>
<circle cx="444.20" cy="84.50" r="0.9" fill="#c6244a"/>
<circle cx="455.30" cy="74.20" r="0.9" fill="#c6244a"/>
<circle cx="467.40" cy="70.60" r="0.9" fill="#c6244a"/>
<circle cx="478.40" cy="70.60" r="0.9" fill="#c6244a"/>
<circle cx="490.00" cy="69.10" r="0.9" fill="#c6244a"/>
<circle cx="501.50" cy="61.40" r="0.9" fill="#c6244a"/>
<polyline points="354.30,115.20 363.30,109.80 375.10,109.80 386.30,110.00 397.70,110.00 409.80,110.00 421.10,110.00 432.10,104.60 444.20,109.70" fill="none" stroke="#c6244a" stroke-width="0.85" stroke-linejoin="round"/>
<circle cx="354.30" cy="115.20" r="0.9" fill="#c6244a"/>
<circle cx="363.30" cy="109.80" r="0.9" fill="#c6244a"/>
<circle cx="375.10" cy="109.80" r="0.9" fill="#c6244a"/>
<circle cx="386.30" cy="110.00" r="0.9" fill="#c6244a"/>
<circle cx="397.70" cy="110.00" r="0.9" fill="#c6244a"/>
<circle cx="409.80" cy="110.00" r="0.9" fill="#c6244a"/>
<circle cx="421.10" cy="110.00" r="0.9" fill="#c6244a"/>
<circle cx="432.10" cy="104.60" r="0.9" fill="#c6244a"/>
<circle cx="444.20" cy="109.70" r="0.9" fill="#c6244a"/>
<polyline points="363.60,98.00 372.60,91.10" fill="none" stroke="#c6244a" stroke-width="0.85" stroke-linejoin="round"/>
<circle cx="363.60" cy="98.00" r="0.9" fill="#c6244a"/>
<circle cx="372.60" cy="91.10" r="0.9" fill="#c6244a"/>
<line x1="363.30" y1="109.80" x2="368.60" y2="115.40" stroke="#b05060" stroke-width="0.6"/>
<line x1="375.40" y1="103.20" x2="382.60" y2="111.00" stroke="#b05060" stroke-width="0.6"/>
<polyline points="352.2,126.8 354.0,122.3" fill="none" stroke="#c6244a" stroke-width="1.4"/>
<line x1="353.80" y1="124.20" x2="357.60" y2="122.30" stroke="#c6244a" stroke-width="0.6"/>
<text x="399.00" y="44.30" font-size="6" fill="#333" stroke="#333" stroke-width="0.12">01<tspan fill="#5b7190" stroke="#5b7190"> Rx</tspan></text>
<text x="367.60" y="61.10" font-size="6" fill="#333" stroke="#333" stroke-width="0.12">11<tspan fill="#5b7190" stroke="#5b7190"> Rx</tspan></text>
<text x="371.00" y="74.40" font-size="6" fill="#333" stroke="#333" stroke-width="0.12">09<tspan fill="#5b7190" stroke="#5b7190"> Rx</tspan></text>
<text x="372.20" y="78.80" font-size="6" fill="#333" stroke="#333" stroke-width="0.12">05</text>
<text x="387.00" y="80.50" font-size="6" fill="#333" stroke="#333" stroke-width="0.12">55<tspan fill="#5b7190" stroke="#5b7190"> Rx</tspan></text>
<text x="375.40" y="90.50" font-size="6" fill="#333" stroke="#333" stroke-width="0.12">60</text>
<text x="387.80" y="106.50" font-size="6" fill="#333" stroke="#333" stroke-width="0.12">24<tspan fill="#5b7190" stroke="#5b7190"> Rx</tspan></text>
<text x="382.60" y="115.60" font-size="6" fill="#333" stroke="#333" stroke-width="0.12">46</text>
<text x="371.60" y="121.50" font-size="6" fill="#333" stroke="#333" stroke-width="0.12">68</text>
<text x="423.00" y="48.30" font-size="6" fill="#333" stroke="#333" stroke-width="0.12">46</text>
<text x="470.00" y="39.90" font-size="6" fill="#333" stroke="#333" stroke-width="0.12">21</text>
<text x="505.00" y="61.90" font-size="6" fill="#333" stroke="#333" stroke-width="0.12">20</text>
<text x="447.60" y="110.10" font-size="6" fill="#333" stroke="#333" stroke-width="0.12">41</text>
<line x1="371.50" y1="65.00" x2="364.60" y2="72.60" stroke="#7ab8d8" stroke-width="0.6"/>
<line x1="370.30" y1="75.30" x2="365.70" y2="84.00" stroke="#7ab8d8" stroke-width="0.6"/>
<line x1="387.00" y1="79.00" x2="374.00" y2="86.80" stroke="#7ab8d8" stroke-width="0.6"/>
<line x1="387.60" y1="104.60" x2="381.00" y2="103.70" stroke="#7ab8d8" stroke-width="0.6"/>
<rect x="34.80" y="267.20" width="8.52" height="7.90" fill="#dadade" />
<rect x="34.80" y="275.10" width="8.52" height="7.90" fill="#dadade" />
<text x="0.00" y="0.00" font-size="6" text-anchor="start" fill="#222" stroke="#222" stroke-width="0.14" transform="translate(41.26,263.4) rotate(-90) scale(0.93,1)">iFCR01_pre</text>
<rect x="43.32" y="267.20" width="8.52" height="7.90" fill="#eebcaa" />
<rect x="43.32" y="275.10" width="8.52" height="7.90" fill="#dadade" />
<text x="0.00" y="0.00" font-size="6" text-anchor="start" fill="#222" stroke="#222" stroke-width="0.14" transform="translate(49.78,263.4) rotate(-90) scale(0.93,1)">iFCR01</text>
<rect x="51.84" y="267.20" width="8.52" height="7.90" fill="#d6d9e6" />
<rect x="51.84" y="275.10" width="8.52" height="7.90" fill="#ffffff" />
<text x="0.00" y="0.00" font-size="6" text-anchor="start" fill="#222" stroke="#222" stroke-width="0.14" transform="translate(58.30,263.4) rotate(-90) scale(0.93,1)">iFCR09_pre</text>
<rect x="60.36" y="267.20" width="8.52" height="7.90" fill="#dadade" />
<rect x="60.36" y="275.10" width="8.52" height="7.90" fill="#dadade" />
<text x="0.00" y="0.00" font-size="6" text-anchor="start" fill="#222" stroke="#222" stroke-width="0.14" transform="translate(66.82,263.4) rotate(-90) scale(0.93,1)">iFCR09</text>
<rect x="68.88" y="267.20" width="8.52" height="7.90" fill="#dadade" />
<rect x="68.88" y="275.10" width="8.52" height="7.90" fill="#dadade" />
<text x="0.00" y="0.00" font-size="6" text-anchor="start" fill="#222" stroke="#222" stroke-width="0.14" transform="translate(75.34,263.4) rotate(-90) scale(0.93,1)">iFCR11_pre</text>
<rect x="77.40" y="267.20" width="8.52" height="7.90" fill="#dadade" />
<rect x="77.40" y="275.10" width="8.52" height="7.90" fill="#dadade" />
<text x="0.00" y="0.00" font-size="6" text-anchor="start" fill="#222" stroke="#222" stroke-width="0.14" transform="translate(83.86,263.4) rotate(-90) scale(0.93,1)">iFCR11</text>
<rect x="85.92" y="267.20" width="8.52" height="7.90" fill="#dadade" />
<rect x="85.92" y="275.10" width="8.52" height="7.90" fill="#ffffff" />
<text x="0.00" y="0.00" font-size="6" text-anchor="start" fill="#222" stroke="#222" stroke-width="0.14" transform="translate(92.38,263.4) rotate(-90) scale(0.93,1)">iFCR55_pre</text>
<rect x="94.44" y="267.20" width="8.52" height="7.90" fill="#dadade" />
<rect x="94.44" y="275.10" width="8.52" height="7.90" fill="#dadade" />
<text x="0.00" y="0.00" font-size="6" text-anchor="start" fill="#222" stroke="#222" stroke-width="0.14" transform="translate(100.90,263.4) rotate(-90) scale(0.93,1)">iFCR55</text>
<rect x="102.96" y="267.20" width="8.52" height="7.90" fill="#dadade" />
<rect x="102.96" y="275.10" width="8.52" height="7.90" fill="#dadade" />
<text x="0.00" y="0.00" font-size="6" text-anchor="start" fill="#222" stroke="#222" stroke-width="0.14" transform="translate(109.42,263.4) rotate(-90) scale(0.93,1)">iFCR20_pre</text>
<rect x="111.48" y="267.20" width="8.52" height="7.90" fill="#f05a2a" />
<rect x="111.48" y="275.10" width="8.52" height="7.90" fill="#d9dce2" />
<text x="0.00" y="0.00" font-size="6" text-anchor="start" fill="#222" stroke="#222" stroke-width="0.14" transform="translate(117.94,263.4) rotate(-90) scale(0.93,1)">iFCR20</text>
<rect x="120.00" y="267.20" width="8.52" height="7.90" fill="#dadade" />
<rect x="120.00" y="275.10" width="8.52" height="7.90" fill="#dadade" />
<text x="0.00" y="0.00" font-size="6" text-anchor="start" fill="#222" stroke="#222" stroke-width="0.14" transform="translate(126.46,263.4) rotate(-90) scale(0.93,1)">iFCR21_pre</text>
<rect x="128.52" y="267.20" width="8.52" height="7.90" fill="#dadade" />
<rect x="128.52" y="275.10" width="8.52" height="7.90" fill="#e63a1c" />
<text x="0.00" y="0.00" font-size="6" text-anchor="start" fill="#222" stroke="#222" stroke-width="0.14" transform="translate(134.98,263.4) rotate(-90) scale(0.93,1)">iFCR21</text>
<line x1="34.80" y1="275.10" x2="137.04" y2="275.10" stroke="#eeeeee" stroke-width="0.5"/>
<line x1="43.32" y1="267.20" x2="43.32" y2="283.00" stroke="#eeeeee" stroke-width="0.5"/>
<line x1="51.84" y1="267.20" x2="51.84" y2="283.00" stroke="#555" stroke-width="0.9"/>
<line x1="60.36" y1="267.20" x2="60.36" y2="283.00" stroke="#eeeeee" stroke-width="0.5"/>
<line x1="68.88" y1="267.20" x2="68.88" y2="283.00" stroke="#555" stroke-width="0.9"/>
<line x1="77.40" y1="267.20" x2="77.40" y2="283.00" stroke="#eeeeee" stroke-width="0.5"/>
<line x1="85.92" y1="267.20" x2="85.92" y2="283.00" stroke="#555" stroke-width="0.9"/>
<line x1="94.44" y1="267.20" x2="94.44" y2="283.00" stroke="#eeeeee" stroke-width="0.5"/>
<line x1="102.96" y1="267.20" x2="102.96" y2="283.00" stroke="#555" stroke-width="0.9"/>
<line x1="111.48" y1="267.20" x2="111.48" y2="283.00" stroke="#eeeeee" stroke-width="0.5"/>
<line x1="120.00" y1="267.20" x2="120.00" y2="283.00" stroke="#555" stroke-width="0.9"/>
<line x1="128.52" y1="267.20" x2="128.52" y2="283.00" stroke="#eeeeee" stroke-width="0.5"/>
<text x="31.90" y="272.80" font-size="6" text-anchor="end" fill="#222" stroke="#222" stroke-width="0.14" font-style="italic" >TP53</text>
<text x="31.30" y="281.40" font-size="6" text-anchor="end" fill="#222" stroke="#222" stroke-width="0.14" font-style="italic" >NOTCH1</text>
<defs><linearGradient id="gC" x1="0" y1="0" x2="0" y2="1"><stop offset="0" stop-color="#e21a10"/><stop offset="0.55" stop-color="#ef5535"/><stop offset="1" stop-color="#fde0d8"/></linearGradient><linearGradient id="gD" x1="0" y1="0" x2="0" y2="1"><stop offset="0" stop-color="#a81c18"/><stop offset="0.5" stop-color="#d24a44"/><stop offset="1" stop-color="#f6d6d6"/></linearGradient></defs>
<text x="142.40" y="264.00" font-size="6" text-anchor="start" fill="#222" stroke="#222" stroke-width="0.14" >VAF</text>
<rect x="142.6" y="267.0" width="9.8" height="23.6" fill="url(#gC)" stroke="#444" stroke-width="0.6"/>
<text x="154.60" y="272.60" font-size="6" text-anchor="start" fill="#222" stroke="#222" stroke-width="0.14" >15</text>
<text x="154.60" y="279.70" font-size="6" text-anchor="start" fill="#222" stroke="#222" stroke-width="0.14" >10</text>
<text x="154.60" y="286.50" font-size="6" text-anchor="start" fill="#222" stroke="#222" stroke-width="0.14" >5</text>
<text x="154.60" y="293.00" font-size="6" text-anchor="start" fill="#222" stroke="#222" stroke-width="0.14" >0</text>
<rect x="142.6" y="296.0" width="9.8" height="8.0" fill="#fff" stroke="#999" stroke-width="0.6"/>
<text x="154.60" y="302.20" font-size="6" text-anchor="start" fill="#222" stroke="#222" stroke-width="0.14" >not tested</text>
<rect x="222.90" y="212.70" width="54.48" height="90.60" fill="#d6d6da" />
<line x1="231.98" y1="212.70" x2="231.98" y2="303.30" stroke="#e8e8ec" stroke-width="0.6"/>
<line x1="241.06" y1="212.70" x2="241.06" y2="303.30" stroke="#e8e8ec" stroke-width="0.6"/>
<line x1="250.14" y1="212.70" x2="250.14" y2="303.30" stroke="#e8e8ec" stroke-width="0.6"/>
<line x1="259.22" y1="212.70" x2="259.22" y2="303.30" stroke="#e8e8ec" stroke-width="0.6"/>
<line x1="268.30" y1="212.70" x2="268.30" y2="303.30" stroke="#e8e8ec" stroke-width="0.6"/>
<line x1="222.90" y1="221.76" x2="277.38" y2="221.76" stroke="#e8e8ec" stroke-width="0.6"/>
<line x1="222.90" y1="230.82" x2="277.38" y2="230.82" stroke="#e8e8ec" stroke-width="0.6"/>
<line x1="222.90" y1="239.88" x2="277.38" y2="239.88" stroke="#e8e8ec" stroke-width="0.6"/>
<line x1="222.90" y1="248.94" x2="277.38" y2="248.94" stroke="#e8e8ec" stroke-width="0.6"/>
<line x1="222.90" y1="258.00" x2="277.38" y2="258.00" stroke="#e8e8ec" stroke-width="0.6"/>
<line x1="222.90" y1="267.06" x2="277.38" y2="267.06" stroke="#e8e8ec" stroke-width="0.6"/>
<line x1="222.90" y1="276.12" x2="277.38" y2="276.12" stroke="#e8e8ec" stroke-width="0.6"/>
<line x1="222.90" y1="285.18" x2="277.38" y2="285.18" stroke="#e8e8ec" stroke-width="0.6"/>
<line x1="222.90" y1="294.24" x2="277.38" y2="294.24" stroke="#e8e8ec" stroke-width="0.6"/>
<rect x="241.36" y="222.06" width="8.48" height="8.46" fill="#eeb2ae" />
<rect x="232.28" y="231.12" width="8.48" height="8.46" fill="#e6cac8" />
<rect x="223.20" y="240.18" width="8.48" height="8.46" fill="#dc4232" />
<rect x="241.36" y="240.18" width="8.48" height="8.46" fill="#c8301c" />
<rect x="268.60" y="248.94" width="8.48" height="9.06" fill="#c2341a" />
<rect x="268.60" y="258.00" width="8.48" height="9.06" fill="#aa1c0c" />
<rect x="268.60" y="267.06" width="8.48" height="9.06" fill="#e24a3a" />
<text x="0.00" y="0.00" font-size="6" text-anchor="start" fill="#222" stroke="#222" stroke-width="0.14" transform="translate(229.64,209.0) rotate(-90) scale(0.93,1)">iFCR01</text>
<text x="0.00" y="0.00" font-size="6" text-anchor="start" fill="#222" stroke="#222" stroke-width="0.14" transform="translate(238.72,209.0) rotate(-90) scale(0.93,1)">iFCR09</text>
<text x="0.00" y="0.00" font-size="6" text-anchor="start" fill="#222" stroke="#222" stroke-width="0.14" transform="translate(247.80,209.0) rotate(-90) scale(0.93,1)">iFCR11</text>
<text x="0.00" y="0.00" font-size="6" text-anchor="start" fill="#222" stroke="#222" stroke-width="0.14" transform="translate(256.88,209.0) rotate(-90) scale(0.93,1)">iFCR55</text>
<text x="0.00" y="0.00" font-size="6" text-anchor="start" fill="#222" stroke="#222" stroke-width="0.14" transform="translate(265.96,209.0) rotate(-90) scale(0.93,1)">iFCR20</text>
<text x="0.00" y="0.00" font-size="6" text-anchor="start" fill="#222" stroke="#222" stroke-width="0.14" transform="translate(275.04,209.0) rotate(-90) scale(0.93,1)">iFCR21</text>
<text x="220.20" y="219.33" font-size="6" text-anchor="end" fill="#222" stroke="#222" stroke-width="0.14" font-style="italic" >BTK</text>
<text x="220.20" y="228.39" font-size="6" text-anchor="end" fill="#222" stroke="#222" stroke-width="0.14" font-style="italic" >PLCG2</text>
<text x="220.20" y="237.45" font-size="6" text-anchor="end" fill="#222" stroke="#222" stroke-width="0.14" font-style="italic" >ATM</text>
<text x="220.20" y="246.51" font-size="6" text-anchor="end" fill="#222" stroke="#222" stroke-width="0.14" font-style="italic" >SF3B1</text>
<text x="220.20" y="255.57" font-size="6" text-anchor="end" fill="#222" stroke="#222" stroke-width="0.14" font-style="italic" >BRAF</text>
<text x="220.20" y="264.63" font-size="6" text-anchor="end" fill="#222" stroke="#222" stroke-width="0.14" font-style="italic" >BCOR</text>
<text x="220.20" y="273.69" font-size="6" text-anchor="end" fill="#222" stroke="#222" stroke-width="0.14" font-style="italic" >BRCC3</text>
<text x="220.20" y="282.75" font-size="6" text-anchor="end" fill="#222" stroke="#222" stroke-width="0.14" font-style="italic" >XPO1</text>
<text x="220.20" y="291.81" font-size="6" text-anchor="end" fill="#222" stroke="#222" stroke-width="0.14" font-style="italic" >FBXW7</text>
<text x="220.20" y="300.87" font-size="6" text-anchor="end" fill="#222" stroke="#222" stroke-width="0.14" font-style="italic" >MYD88</text>
<text x="281.80" y="209.20" font-size="6" text-anchor="start" fill="#222" stroke="#222" stroke-width="0.14" >VAF</text>
<rect x="282.8" y="212.2" width="8.4" height="22.0" fill="url(#gD)" stroke="#555" stroke-width="0.5"/>
<text x="293.00" y="217.20" font-size="6" text-anchor="start" fill="#222" stroke="#222" stroke-width="0.14" >15</text>
<text x="293.00" y="222.90" font-size="6" text-anchor="start" fill="#222" stroke="#222" stroke-width="0.14" >10</text>
<text x="293.00" y="228.60" font-size="6" text-anchor="start" fill="#222" stroke="#222" stroke-width="0.14" >5</text>
<text x="293.00" y="234.30" font-size="6" text-anchor="start" fill="#222" stroke="#222" stroke-width="0.14" >0</text>
<line x1="344.30" y1="189.00" x2="344.30" y2="285.30" stroke="#111" stroke-width="1.2"/>
<line x1="342.80" y1="283.60" x2="345.80" y2="286.20" stroke="#111" stroke-width="0.9"/>
<line x1="344.30" y1="288.00" x2="344.30" y2="300.60" stroke="#111" stroke-width="1.2"/>
<line x1="342.80" y1="287.40" x2="345.80" y2="290.00" stroke="#111" stroke-width="0.9"/>
<line x1="342.10" y1="190.40" x2="344.30" y2="190.40" stroke="#111" stroke-width="0.9"/>
<text x="338.80" y="192.50" font-size="5.7" text-anchor="end" fill="#222" stroke="#222" stroke-width="0.15">10<tspan font-size="3.9" dy="-2.4">0</tspan></text>
<line x1="343.20" y1="205.78" x2="344.30" y2="205.78" stroke="#111" stroke-width="0.45"/>
<line x1="343.20" y1="201.90" x2="344.30" y2="201.90" stroke="#111" stroke-width="0.45"/>
<line x1="343.20" y1="199.15" x2="344.30" y2="199.15" stroke="#111" stroke-width="0.45"/>
<line x1="343.20" y1="197.02" x2="344.30" y2="197.02" stroke="#111" stroke-width="0.45"/>
<line x1="343.20" y1="195.28" x2="344.30" y2="195.28" stroke="#111" stroke-width="0.45"/>
<line x1="343.20" y1="193.81" x2="344.30" y2="193.81" stroke="#111" stroke-width="0.45"/>
<line x1="343.20" y1="192.53" x2="344.30" y2="192.53" stroke="#111" stroke-width="0.45"/>
<line x1="343.20" y1="191.41" x2="344.30" y2="191.41" stroke="#111" stroke-width="0.45"/>
<line x1="342.10" y1="212.40" x2="344.30" y2="212.40" stroke="#111" stroke-width="0.9"/>
<text x="338.80" y="214.50" font-size="5.7" text-anchor="end" fill="#222" stroke="#222" stroke-width="0.15">10<tspan font-size="3.9" dy="-2.4">−1</tspan></text>
<line x1="343.20" y1="227.78" x2="344.30" y2="227.78" stroke="#111" stroke-width="0.45"/>
<line x1="343.20" y1="223.90" x2="344.30" y2="223.90" stroke="#111" stroke-width="0.45"/>
<line x1="343.20" y1="221.15" x2="344.30" y2="221.15" stroke="#111" stroke-width="0.45"/>
<line x1="343.20" y1="219.02" x2="344.30" y2="219.02" stroke="#111" stroke-width="0.45"/>
<line x1="343.20" y1="217.28" x2="344.30" y2="217.28" stroke="#111" stroke-width="0.45"/>
<line x1="343.20" y1="215.81" x2="344.30" y2="215.81" stroke="#111" stroke-width="0.45"/>
<line x1="343.20" y1="214.53" x2="344.30" y2="214.53" stroke="#111" stroke-width="0.45"/>
<line x1="343.20" y1="213.41" x2="344.30" y2="213.41" stroke="#111" stroke-width="0.45"/>
<line x1="342.10" y1="234.40" x2="344.30" y2="234.40" stroke="#111" stroke-width="0.9"/>
<text x="338.80" y="236.50" font-size="5.7" text-anchor="end" fill="#222" stroke="#222" stroke-width="0.15">10<tspan font-size="3.9" dy="-2.4">−2</tspan></text>
<line x1="343.20" y1="249.78" x2="344.30" y2="249.78" stroke="#111" stroke-width="0.45"/>
<line x1="343.20" y1="245.90" x2="344.30" y2="245.90" stroke="#111" stroke-width="0.45"/>
<line x1="343.20" y1="243.15" x2="344.30" y2="243.15" stroke="#111" stroke-width="0.45"/>
<line x1="343.20" y1="241.02" x2="344.30" y2="241.02" stroke="#111" stroke-width="0.45"/>
<line x1="343.20" y1="239.28" x2="344.30" y2="239.28" stroke="#111" stroke-width="0.45"/>
<line x1="343.20" y1="237.81" x2="344.30" y2="237.81" stroke="#111" stroke-width="0.45"/>
<line x1="343.20" y1="236.53" x2="344.30" y2="236.53" stroke="#111" stroke-width="0.45"/>
<line x1="343.20" y1="235.41" x2="344.30" y2="235.41" stroke="#111" stroke-width="0.45"/>
<line x1="342.10" y1="256.40" x2="344.30" y2="256.40" stroke="#111" stroke-width="0.9"/>
<text x="338.80" y="258.50" font-size="5.7" text-anchor="end" fill="#222" stroke="#222" stroke-width="0.15">10<tspan font-size="3.9" dy="-2.4">−3</tspan></text>
<line x1="343.20" y1="271.78" x2="344.30" y2="271.78" stroke="#111" stroke-width="0.45"/>
<line x1="343.20" y1="267.90" x2="344.30" y2="267.90" stroke="#111" stroke-width="0.45"/>
<line x1="343.20" y1="265.15" x2="344.30" y2="265.15" stroke="#111" stroke-width="0.45"/>
<line x1="343.20" y1="263.02" x2="344.30" y2="263.02" stroke="#111" stroke-width="0.45"/>
<line x1="343.20" y1="261.28" x2="344.30" y2="261.28" stroke="#111" stroke-width="0.45"/>
<line x1="343.20" y1="259.81" x2="344.30" y2="259.81" stroke="#111" stroke-width="0.45"/>
<line x1="343.20" y1="258.53" x2="344.30" y2="258.53" stroke="#111" stroke-width="0.45"/>
<line x1="343.20" y1="257.41" x2="344.30" y2="257.41" stroke="#111" stroke-width="0.45"/>
<line x1="342.10" y1="278.40" x2="344.30" y2="278.40" stroke="#111" stroke-width="0.9"/>
<text x="338.80" y="280.50" font-size="5.7" text-anchor="end" fill="#222" stroke="#222" stroke-width="0.15">10<tspan font-size="3.9" dy="-2.4">−4</tspan></text>
<text x="0.00" y="0.00" font-size="6.0" text-anchor="end" fill="#222" stroke="#222" stroke-width="0.14"  transform="translate(338.60,297.80) scale(0.95,1)">uMRD4</text>
<line x1="344.30" y1="300.60" x2="509.80" y2="300.60" stroke="#111" stroke-width="1.0"/>
<line x1="357.60" y1="300.60" x2="357.60" y2="302.60" stroke="#111" stroke-width="0.8"/>
<text x="0.00" y="0.00" font-size="6.0" text-anchor="middle" fill="#222" stroke="#222" stroke-width="0.14"  transform="translate(357.60,311.50) scale(0.95,1)">0.5</text>
<line x1="377.43" y1="300.60" x2="377.43" y2="302.60" stroke="#111" stroke-width="0.8"/>
<text x="0.00" y="0.00" font-size="6.0" text-anchor="middle" fill="#222" stroke="#222" stroke-width="0.14"  transform="translate(377.43,311.50) scale(0.95,1)">1</text>
<line x1="397.26" y1="300.60" x2="397.26" y2="302.60" stroke="#111" stroke-width="0.8"/>
<text x="0.00" y="0.00" font-size="6.0" text-anchor="middle" fill="#222" stroke="#222" stroke-width="0.14"  transform="translate(397.26,311.50) scale(0.95,1)">1.5</text>
<line x1="417.09" y1="300.60" x2="417.09" y2="302.60" stroke="#111" stroke-width="0.8"/>
<text x="0.00" y="0.00" font-size="6.0" text-anchor="middle" fill="#222" stroke="#222" stroke-width="0.14"  transform="translate(417.09,311.50) scale(0.95,1)">2</text>
<line x1="436.92" y1="300.60" x2="436.92" y2="302.60" stroke="#111" stroke-width="0.8"/>
<text x="0.00" y="0.00" font-size="6.0" text-anchor="middle" fill="#222" stroke="#222" stroke-width="0.14"  transform="translate(436.92,311.50) scale(0.95,1)">2.5</text>
<line x1="456.75" y1="300.60" x2="456.75" y2="302.60" stroke="#111" stroke-width="0.8"/>
<text x="0.00" y="0.00" font-size="6.0" text-anchor="middle" fill="#222" stroke="#222" stroke-width="0.14"  transform="translate(456.75,311.50) scale(0.95,1)">3</text>
<line x1="476.58" y1="300.60" x2="476.58" y2="302.60" stroke="#111" stroke-width="0.8"/>
<text x="0.00" y="0.00" font-size="6.0" text-anchor="middle" fill="#222" stroke="#222" stroke-width="0.14"  transform="translate(476.58,311.50) scale(0.95,1)">3.5</text>
<line x1="496.41" y1="300.60" x2="496.41" y2="302.60" stroke="#111" stroke-width="0.8"/>
<text x="0.00" y="0.00" font-size="6.0" text-anchor="middle" fill="#222" stroke="#222" stroke-width="0.14"  transform="translate(496.41,311.50) scale(0.95,1)">4</text>
<text x="427.30" y="322.60" font-size="8.1" text-anchor="middle" fill="#222" stroke="#222" stroke-width="0.14" textLength="91.6" lengthAdjust="spacingAndGlyphs" >Time on ibrutinib retreatment (years)</text>
<text x="0.00" y="0.00" font-size="7.2" text-anchor="middle" fill="#222" stroke="#222" stroke-width="0.14" textLength="20.7" lengthAdjust="spacingAndGlyphs" transform="translate(322.0,236.2) rotate(-90)">PB MRD</text>
<polyline points="357.70,202.10 377.53,200.20 397.36,213.30 417.19,219.40 437.02,203.50 456.85,197.70" fill="none" stroke="#2d5079" stroke-width="0.75" stroke-linejoin="round"/>
<circle cx="357.70" cy="202.10" r="0.85" fill="#2d5079"/>
<circle cx="377.53" cy="200.20" r="0.85" fill="#2d5079"/>
<circle cx="397.36" cy="213.30" r="0.85" fill="#2d5079"/>
<circle cx="417.19" cy="219.40" r="0.85" fill="#2d5079"/>
<circle cx="437.02" cy="203.50" r="0.85" fill="#2d5079"/>
<circle cx="456.85" cy="197.70" r="0.85" fill="#2d5079"/>
<polyline points="357.70,206.50 377.53,210.80 397.36,218.50 417.19,198.30" fill="none" stroke="#2d5079" stroke-width="0.75" stroke-linejoin="round"/>
<circle cx="357.70" cy="206.50" r="0.85" fill="#2d5079"/>
<circle cx="377.53" cy="210.80" r="0.85" fill="#2d5079"/>
<circle cx="397.36" cy="218.50" r="0.85" fill="#2d5079"/>
<circle cx="417.19" cy="198.30" r="0.85" fill="#2d5079"/>
<polyline points="357.70,251.30 377.53,247.40 397.36,241.90 417.19,231.30 437.02,234.20 456.85,237.50 476.68,237.00 496.51,230.20" fill="none" stroke="#2d5079" stroke-width="0.75" stroke-linejoin="round"/>
<circle cx="357.70" cy="251.30" r="0.85" fill="#2d5079"/>
<circle cx="377.53" cy="247.40" r="0.85" fill="#2d5079"/>
<circle cx="397.36" cy="241.90" r="0.85" fill="#2d5079"/>
<circle cx="417.19" cy="231.30" r="0.85" fill="#2d5079"/>
<circle cx="437.02" cy="234.20" r="0.85" fill="#2d5079"/>
<circle cx="456.85" cy="237.50" r="0.85" fill="#2d5079"/>
<circle cx="476.68" cy="237.00" r="0.85" fill="#2d5079"/>
<circle cx="496.51" cy="230.20" r="0.85" fill="#2d5079"/>
<polyline points="357.70,267.50 377.53,248.60 397.36,253.80 417.19,254.60 437.02,248.10 456.85,247.00 476.68,246.50" fill="none" stroke="#2d5079" stroke-width="0.75" stroke-linejoin="round"/>
<circle cx="357.70" cy="267.50" r="0.85" fill="#2d5079"/>
<circle cx="377.53" cy="248.60" r="0.85" fill="#2d5079"/>
<circle cx="397.36" cy="253.80" r="0.85" fill="#2d5079"/>
<circle cx="417.19" cy="254.60" r="0.85" fill="#2d5079"/>
<circle cx="437.02" cy="248.10" r="0.85" fill="#2d5079"/>
<circle cx="456.85" cy="247.00" r="0.85" fill="#2d5079"/>
<circle cx="476.68" cy="246.50" r="0.85" fill="#2d5079"/>
<polyline points="357.70,246.90 377.53,238.90 397.36,262.80 417.19,267.80 437.02,278.60 456.85,267.30" fill="none" stroke="#2d5079" stroke-width="0.75" stroke-linejoin="round"/>
<circle cx="357.70" cy="246.90" r="0.85" fill="#2d5079"/>
<circle cx="377.53" cy="238.90" r="0.85" fill="#2d5079"/>
<circle cx="397.36" cy="262.80" r="0.85" fill="#2d5079"/>
<circle cx="417.19" cy="267.80" r="0.85" fill="#2d5079"/>
<circle cx="437.02" cy="278.60" r="0.85" fill="#2d5079"/>
<circle cx="456.85" cy="267.30" r="0.85" fill="#2d5079"/>
<circle cx="419.8" cy="198.2" r="0.6" fill="#888"/>
<circle cx="460.0" cy="197.8" r="0.6" fill="#888"/>
<line x1="410.20" y1="192.20" x2="416.20" y2="197.60" stroke="#999" stroke-width="0.5"/>
<text x="385.0" y="190.8" font-size="5.9" fill="#222" stroke="#222" stroke-width="0.08">IGHV NA, normal FISH, <tspan font-style="italic">PLCG2</tspan> and <tspan font-style="italic">SF3B1</tspan> mut</text>
<text x="440.8" y="208.2" font-size="5.9" fill="#222" stroke="#222" stroke-width="0.08">M-IGHV, del 13q, <tspan font-style="italic">TP53</tspan> and</text>
<text x="440.8" y="215.2" font-size="5.9" fill="#222" stroke="#222" stroke-width="0.08"><tspan font-style="italic">SF3B1</tspan> mut</text>
<text x="440.8" y="228.4" font-size="5.9" fill="#222" stroke="#222" stroke-width="0.08">M-IGHV, del 13q, <tspan font-style="italic">ATM</tspan> mut</text>
<text x="469.8" y="254.5" font-size="5.9" fill="#222" stroke="#222" stroke-width="0.08">U-IGHV, del 11q</text>
<text x="452.0" y="276.9" font-size="5.9" fill="#222" stroke="#222" stroke-width="0.08">U-IGHV, del 17p</text>
<rect x="0.5" y="0.5" width="519" height="330" fill="none" stroke="#666" stroke-width="1"/>
</svg>
</body></html>
